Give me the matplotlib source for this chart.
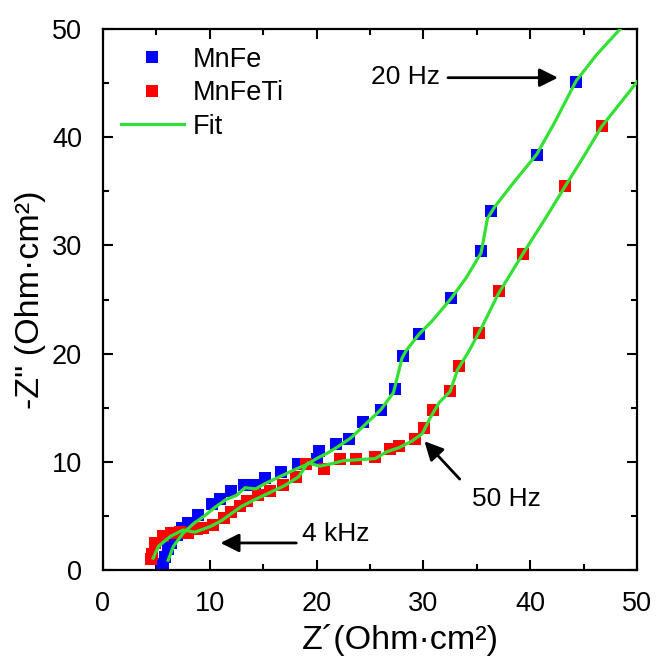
import matplotlib
matplotlib.use("Agg")
import matplotlib.pyplot as plt
from matplotlib.lines import Line2D
from matplotlib.ticker import MultipleLocator

plt.rcParams['font.family'] = ['Liberation Sans', 'DejaVu Sans']

# MnFe data (Z', -Z'')
mnfe_x = [5.5, 5.6, 5.8, 6.1, 6.4, 6.9, 7.4, 8.0, 8.9, 10.2, 11.0, 12.0, 13.2, 14.2,
          15.2, 16.7, 18.3, 20.0, 20.2, 21.8, 23.0, 24.3, 26.0, 27.3, 28.1, 29.6,
          32.6, 35.4, 36.3, 40.6, 44.3]
mnfe_y = [0.3, 0.6, 1.2, 1.9, 2.5, 3.2, 3.9, 4.3, 5.1, 6.1, 6.6, 7.3, 7.9, 7.9,
          8.5, 9.1, 9.8, 10.3, 11.0, 11.6, 12.1, 13.7, 14.8, 16.7, 19.8, 21.8,
          25.1, 29.5, 33.2, 38.4, 45.1]

# MnFeTi data
mnfeti_x = [4.5, 4.6, 4.9, 5.6, 6.4, 7.2, 8.0, 8.8, 9.4, 10.3, 11.3, 12.0, 12.8,
            13.5, 14.5, 15.6, 16.9, 18.1, 19.0, 20.7, 22.2, 23.7, 25.5, 26.9,
            27.7, 29.2, 30.1, 30.9, 32.5, 33.3, 35.2, 37.1, 39.3, 43.3, 46.7]
mnfeti_y = [1.0, 1.5, 2.5, 3.1, 3.4, 3.5, 3.4, 3.8, 3.9, 4.2, 4.8, 5.4, 5.9,
            6.4, 6.9, 7.3, 7.9, 8.6, 9.8, 9.3, 10.3, 10.3, 10.4, 11.2,
            11.5, 12.1, 13.1, 14.8, 16.5, 18.9, 21.9, 25.8, 29.2, 35.5, 41.0]

# Fit curves
fit1_x = [6.1, 6.6, 7.5, 8.5, 9.5, 10.5, 11.5, 12.5, 13.3, 14.3, 15.2, 16.5, 18.0,
          19.2, 20.0, 21.0, 22.0, 23.2, 24.5, 26.0, 27.2, 28.0, 28.4, 29.6, 30.8,
          32.6, 34.0, 35.4, 36.0, 36.7, 38.6, 40.6, 42.2, 44.3, 46.2, 48.7]
fit1_y = [0.9, 2.2, 3.4, 4.3, 5.0, 5.8, 6.5, 6.9, 7.6, 7.5, 8.0, 8.6, 9.3,
          9.8, 10.3, 10.8, 11.4, 12.2, 13.4, 14.8, 16.4, 19.6, 20.3, 21.8, 23.0,
          25.1, 27.0, 29.3, 32.5, 33.6, 36.0, 38.4, 41.2, 45.2, 47.6, 50.3]

fit2_x = [4.7, 5.2, 6.3, 7.5, 8.6, 10.0, 11.0, 12.0, 13.0, 14.0, 15.5, 17.0, 18.3,
          19.2, 20.3, 21.3, 22.5, 24.0, 25.5, 26.5, 27.7, 28.9, 29.9, 30.6, 31.5,
          32.5, 33.2, 34.3, 35.5, 37.0, 39.3, 41.3, 43.3, 45.0, 46.7, 50.0]
fit2_y = [1.1, 2.2, 3.1, 3.7, 3.5, 4.0, 4.5, 5.2, 5.9, 6.4, 7.1, 7.8, 8.6,
          9.9, 9.6, 9.8, 10.1, 10.2, 10.3, 10.9, 11.3, 11.9, 12.6, 14.0, 15.5,
          16.5, 18.5, 20.3, 22.5, 25.5, 29.2, 32.3, 35.5, 38.2, 41.0, 45.1]

series_labels = ['MnFe', 'MnFeTi', 'Fit']

blue = '#0000ff'
red = '#ff0000'
green = '#33e033'

fig = plt.figure(figsize=(6.58, 6.60), dpi=100)
ax = fig.add_axes([103/658, 1 - 570/660, (637-103)/658, (570-29)/660])

ms = 8
ax.plot(mnfe_x, mnfe_y, 's', color=blue, ms=ms, mew=0, zorder=2)
ax.plot(mnfeti_x, mnfeti_y, 's', color=red, ms=ms, mew=0, zorder=2)
ax.plot(fit1_x, fit1_y, '-', color=green, lw=2.3, zorder=3)
ax.plot(fit2_x, fit2_y, '-', color=green, lw=2.3, zorder=3)

ax.set_xlim(0, 50)
ax.set_ylim(0, 50)
ax.xaxis.set_major_locator(MultipleLocator(10))
ax.xaxis.set_minor_locator(MultipleLocator(5))
ax.yaxis.set_major_locator(MultipleLocator(10))
ax.yaxis.set_minor_locator(MultipleLocator(5))
ax.tick_params(which='both', direction='in', top=True, right=True, width=1.5,
               labelsize=19.5)
ax.tick_params(which='major', length=7, pad=15)
ax.tick_params(which='minor', length=4, pad=15)
for s in ax.spines.values():
    s.set_linewidth(1.6)

ax.set_xlabel('Z\u00b4(Ohm\u00b7cm\u00b2)', fontsize=24.5)
ax.xaxis.set_label_coords(0.556, -0.1)
ax.set_ylabel('-Z" (Ohm\u00b7cm\u00b2)', fontsize=24.5, labelpad=4)

handles = [Line2D([], [], marker='s', color=blue, ls='none', ms=ms, mew=0),
           Line2D([], [], marker='s', color=red, ls='none', ms=ms, mew=0),
           Line2D([], [], color=green, lw=2.3)]
leg = ax.legend(handles, series_labels, loc='upper left', frameon=False,
                fontsize=19.5, bbox_to_anchor=(0.01, 0.99), borderaxespad=0.05,
                handlelength=2.35, handletextpad=0.3, labelspacing=0.28)

arrow = dict(arrowstyle='-|>', color='black', lw=2, mutation_scale=28,
             shrinkA=0, shrinkB=0)
ax.annotate('', xy=(42.6, 45.5), xytext=(32.3, 45.5), arrowprops=arrow)
ax.text(28.3, 45.6, '20 Hz', fontsize=19, ha='center', va='center')

ax.annotate('', xy=(30.1, 11.9), xytext=(33.4, 8.4), arrowprops=arrow)
ax.text(37.8, 6.6, '50 Hz', fontsize=19, ha='center', va='center')

ax.annotate('', xy=(11.0, 2.5), xytext=(18.1, 2.5), arrowprops=arrow)
ax.text(18.6, 3.3, '4 kHz', fontsize=19, ha='left', va='center')

fig.savefig('out.png', dpi=100)
